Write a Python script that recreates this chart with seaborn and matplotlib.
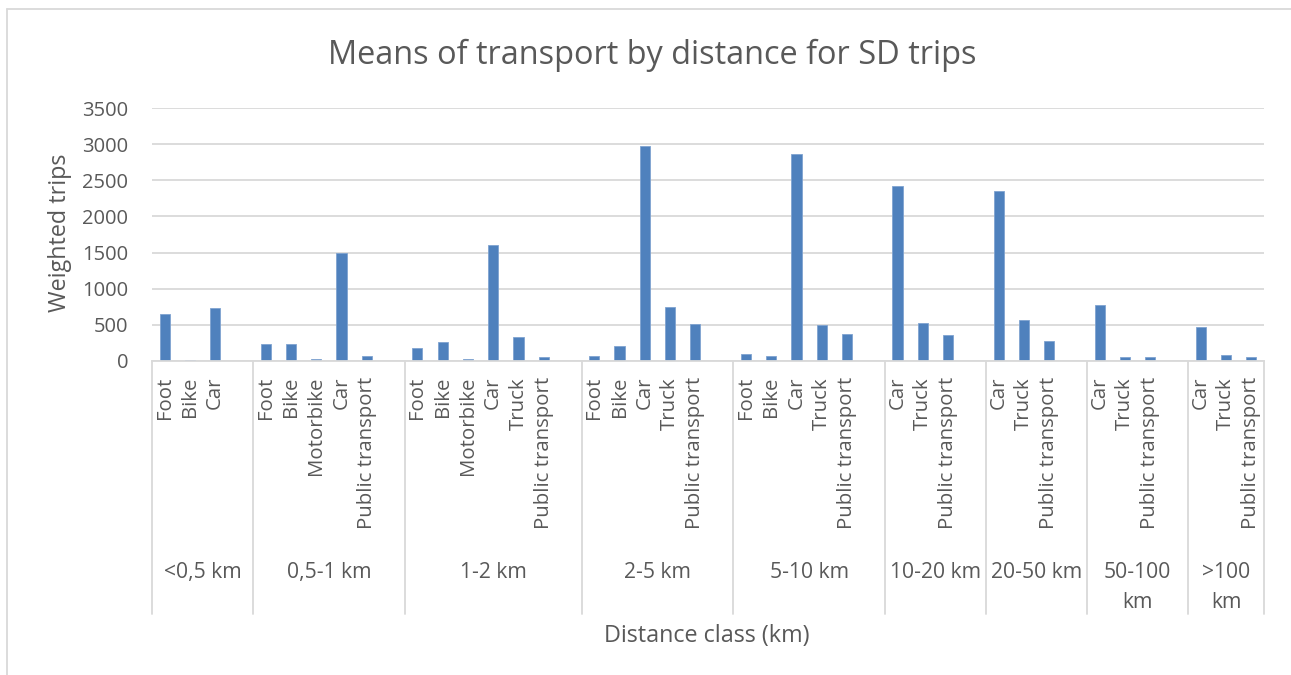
import matplotlib
matplotlib.use("Agg")
import matplotlib.pyplot as plt
import seaborn as sns
import pandas as pd
from matplotlib.lines import Line2D

# Weighted trips per means of transport, grouped by distance class
distance_classes = ["<0,5 km", "0,5-1 km", "1-2 km", "2-5 km", "5-10 km",
                    "10-20 km", "20-50 km", "50-100\nkm", ">100\nkm"]

bar_class = (["<0,5 km"] * 3 + ["0,5-1 km"] * 5 + ["1-2 km"] * 6 +
             ["2-5 km"] * 5 + ["5-10 km"] * 5 + ["10-20 km"] * 3 +
             ["20-50 km"] * 3 + ["50-100\nkm"] * 3 + [">100\nkm"] * 3)

bar_mode = ["Foot", "Bike", "Car",
            "Foot", "Bike", "Motorbike", "Car", "Public transport",
            "Foot", "Bike", "Motorbike", "Car", "Truck", "Public transport",
            "Foot", "Bike", "Car", "Truck", "Public transport",
            "Foot", "Bike", "Car", "Truck", "Public transport",
            "Car", "Truck", "Public transport",
            "Car", "Truck", "Public transport",
            "Car", "Truck", "Public transport",
            "Car", "Truck", "Public transport"]

weighted_trips = [650, 20, 740,
                  236, 241, 32, 1490, 74,
                  176, 260, 23, 1605, 338, 56,
                  65, 209, 2975, 742, 505,
                  93, 65, 2865, 501, 380,
                  2420, 519, 357,
                  2355, 566, 274,
                  770, 60, 56,
                  464, 88, 51]

df = pd.DataFrame({"cls": bar_class, "mode": bar_mode, "trips": weighted_trips})
df["key"] = df["cls"] + "|" + df["mode"]

# Category order: each distance class followed by one empty slot (except the last)
order, tick_text, group_spans = [], [], []
for i, cls in enumerate(distance_classes):
    sub = df[df["cls"] == cls]
    start = len(order)
    order += list(sub["key"])
    tick_text += list(sub["mode"])
    if i < len(distance_classes) - 1:
        order.append(f"__gap{i}")
        tick_text.append("")
    group_spans.append((start, len(order)))

W, H = 1291, 675
fig = plt.figure(figsize=(W / 100, H / 100), dpi=100)
sns.set_style("white")
plt.rcParams["font.family"] = ["Open Sans", "DejaVu Sans"]

txt = "#595959"
grid = "#D9D9D9"

ax = fig.add_axes([152 / W, 1 - 361 / H, (1264 - 152) / W, (361 - 108) / H])
sns.barplot(data=df, x="key", y="trips", order=order, color="#4F81BD",
            width=0.4, saturation=1, ax=ax, errorbar=None,
            edgecolor="#7FA3D0", linewidth=0.6)

ax.set_xlim(-0.5, len(order) - 0.5)
ax.set_ylim(0, 3500)
ax.set_yticks(range(0, 3501, 500))
ax.yaxis.grid(True, color=grid, linewidth=1.3)
ax.set_axisbelow(True)
for s in ["top", "right", "left"]:
    ax.spines[s].set_visible(False)
ax.spines["bottom"].set_color(grid)
ax.spines["bottom"].set_linewidth(1.3)
ax.tick_params(axis="y", length=0, pad=17, labelsize=14.5, labelcolor=txt)
ax.tick_params(axis="x", length=0, pad=11.5, labelsize=14.7, labelcolor=txt)
ax.set_xticks(range(len(order)))
ax.set_xticklabels(tick_text, rotation=90, va="top", ha="center")
ax.set_xlabel("")
ax.set_ylabel("")

# Group separators and distance-class labels below the axis
n = len(order)
bounds = [0] + [e for _, e in group_spans]
for b in bounds:
    xa = b / n
    ax.add_line(Line2D([xa, xa], [0, -1.0], transform=ax.transAxes,
                       color=grid, linewidth=1.3, clip_on=False))
for (s, e), cls in zip(group_spans, distance_classes):
    xc = (s + e) / 2 / n
    for j, line in enumerate(cls.split("\n")):
        ax.text(xc, (361 - 570 - 30 * j) / 253, line, transform=ax.transAxes,
                ha="center", va="center_baseline", fontsize=15.2, color=txt)

fig.text(707 / W, 1 - 636 / H, "Distance class (km)", ha="center", va="center",
         fontsize=16.8, color=txt)
fig.text(60 / W, 1 - 233 / H, "Weighted trips", ha="center", va="center",
         rotation=90, fontsize=16.8, color=txt)
fig.text(652 / W, 1 - 55 / H, "Means of transport by distance for SD trips",
         ha="center", va="center", fontsize=23.4, color=txt)

# Outer chart frame
fig.add_artist(Line2D([7 / W, 1.0], [1 - 9 / H, 1 - 9 / H], transform=fig.transFigure,
                      color=grid, linewidth=1.3))
fig.add_artist(Line2D([7 / W, 7 / W], [1 - 9 / H, 0], transform=fig.transFigure,
                      color=grid, linewidth=1.3))

fig.savefig("out.png", dpi=100, facecolor="white")
